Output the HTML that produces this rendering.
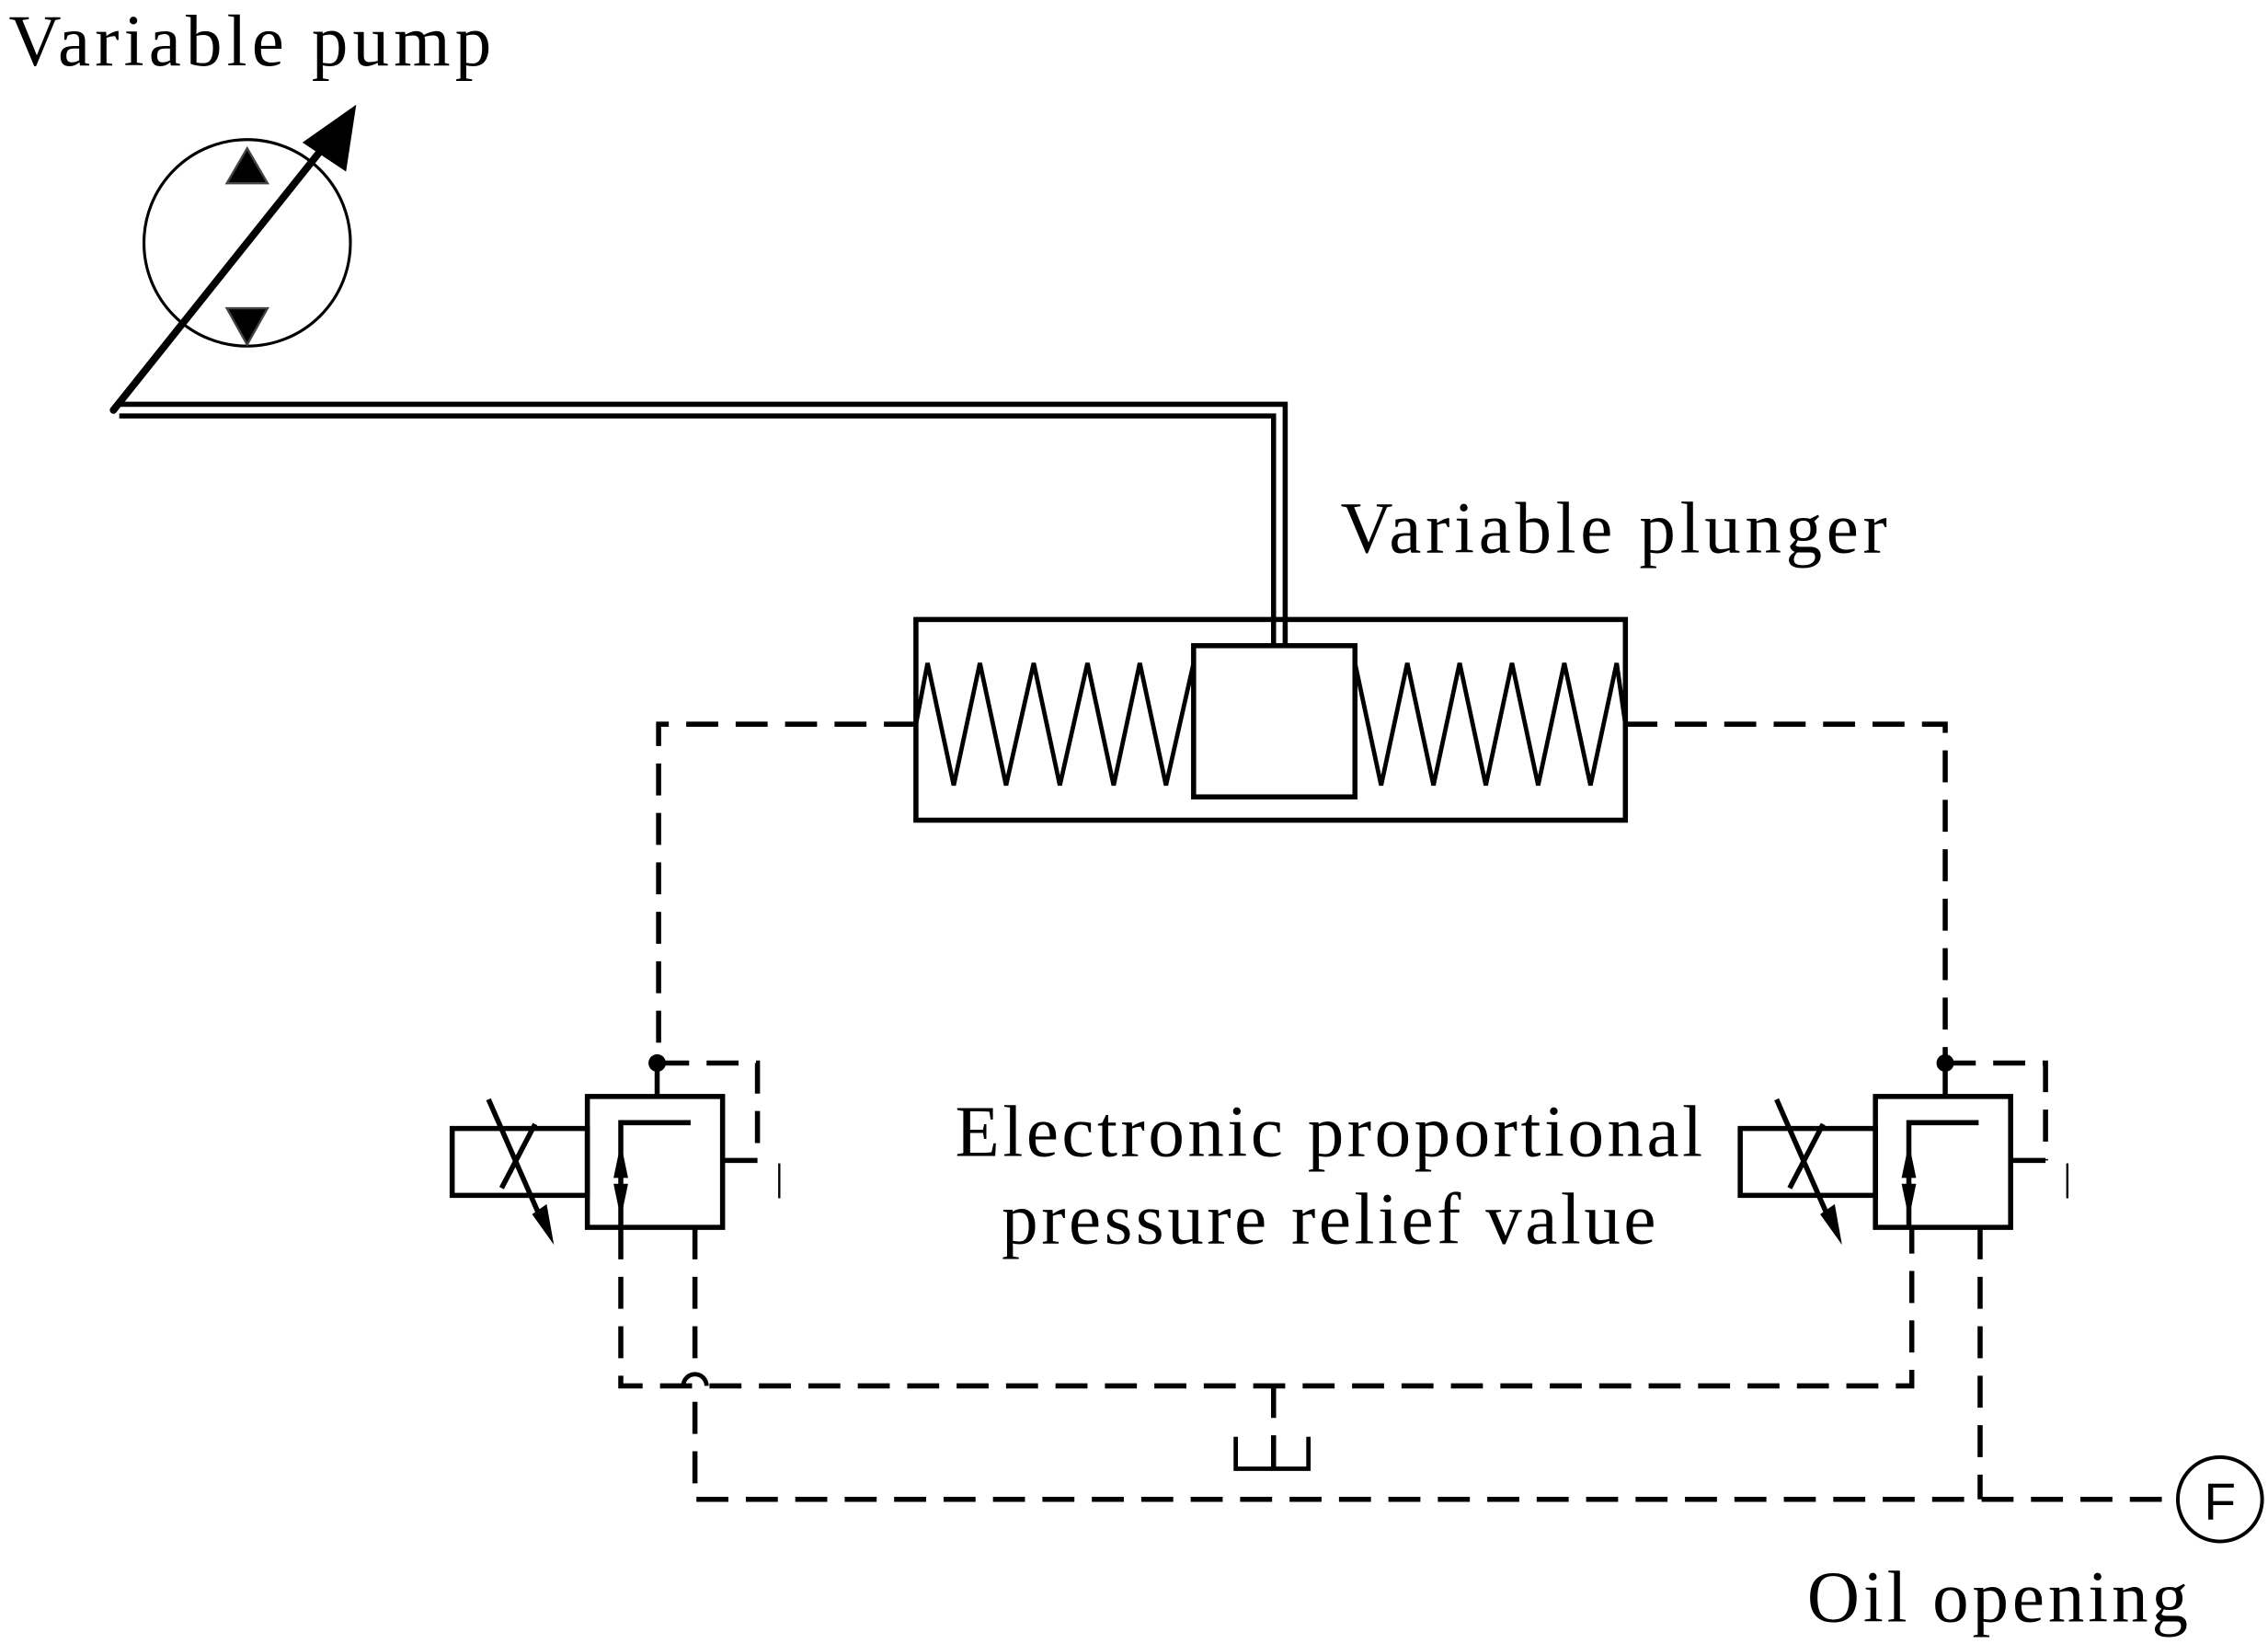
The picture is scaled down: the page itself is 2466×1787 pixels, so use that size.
<!DOCTYPE html>
<html><head><style>html,body{margin:0;padding:0;background:#fff}svg{display:block}text{font-family:"Liberation Serif",serif;font-size:50px;fill:#000}</style></head><body>
<svg width="2466" height="1787" viewBox="0 0 1560 1130.5" xmlns="http://www.w3.org/2000/svg">
<text x="6" y="45" textLength="332">Variable pump</text>
<text x="922" y="380" textLength="376">Variable plunger</text>
<text x="657" y="795" textLength="514">Electronic proportional</text>
<text x="689" y="855" textLength="450">pressure relief value</text>
<text x="1243" y="1115" textLength="262">Oil opening</text>
<circle cx="170" cy="167" r="71" fill="none" stroke="#000" stroke-width="2"/>
<polygon points="170,102 156,126 184,126" fill="#000" stroke="#444" stroke-width="1.5"/>
<polygon points="170,237 156,212 184,212" fill="#000" stroke="#444" stroke-width="1.5"/>
<line x1="78" y1="282" x2="225" y2="98" stroke="#000" stroke-width="5" stroke-linecap="round"/>
<polygon points="245,72 208,98 238,118" fill="#000"/>
<path d="M80 278 H884 V443 M82 286 H876 V443" fill="none" stroke="#000" stroke-width="3.5"/>
<rect x="630" y="426" width="488" height="138" fill="none" stroke="#000" stroke-width="3.5"/>
<rect x="821" y="444" width="111" height="104" fill="#fff" stroke="#000" stroke-width="3.5"/>
<polyline points="630,498 638,456 656,540 674,456 692,540 711,456 729,540 748,456 766,540 784,456 802,540 821,456" fill="none" stroke="#000" stroke-width="3"/>
<polyline points="932,456 950,540 968,456 986,540 1004,456 1022,540 1040,456 1058,540 1076,456 1094,540 1112,456 1118,498" fill="none" stroke="#000" stroke-width="3"/>
<g fill="none" stroke="#000" stroke-width="3.5" stroke-dasharray="22,12">
<path d="M630 498 H453 V728"/>
<path d="M1118 498 H1338 V728"/>
<path d="M452 731 H521 V798"/>
<path d="M1337 731 H1407 V798"/>
<path d="M427 844 V953 H1315 V844"/>
<path d="M478 844 V942 M478 964 V1031 H1500"/>
<path d="M1362 844 V1031"/>
<path d="M876 953 V1010"/>
</g>
<path d="M470 953 A8 8 0 0 1 486 953" fill="none" stroke="#000" stroke-width="3"/>
<path d="M850 988 V1010 H900 V988" fill="none" stroke="#000" stroke-width="3"/>
<circle cx="1527" cy="1031" r="29" fill="#fff" stroke="#000" stroke-width="2.5"/>
<text x="1527" y="1045" text-anchor="middle" style="font-family:'Liberation Sans',sans-serif;font-size:36px">F</text>
<g id="v" fill="none" stroke="#000" stroke-width="3.5">
<rect x="404" y="754" width="93" height="90"/>
<rect x="311" y="776" width="93" height="46"/>
<line x1="452" y1="731" x2="452" y2="754"/>
<line x1="497" y1="798" x2="521" y2="798"/>
<line x1="536" y1="800" x2="536" y2="824" stroke-width="1.5"/>
<path d="M427 844 V772 H475"/>
<line x1="336" y1="756" x2="372" y2="838"/>
<line x1="368" y1="773" x2="345" y2="817"/>
<circle cx="452" cy="731" r="6" fill="#000" stroke="none"/>
<polygon points="427,786 422,810 432,810" fill="#000" stroke="none"/>
<polygon points="427,838 422,814 432,814" fill="#000" stroke="none"/>
<polygon points="381,856 366,835 376,828" fill="#000" stroke="none"/>
</g>
<use href="#v" transform="translate(886,0)"/>
</svg>
</body></html>
